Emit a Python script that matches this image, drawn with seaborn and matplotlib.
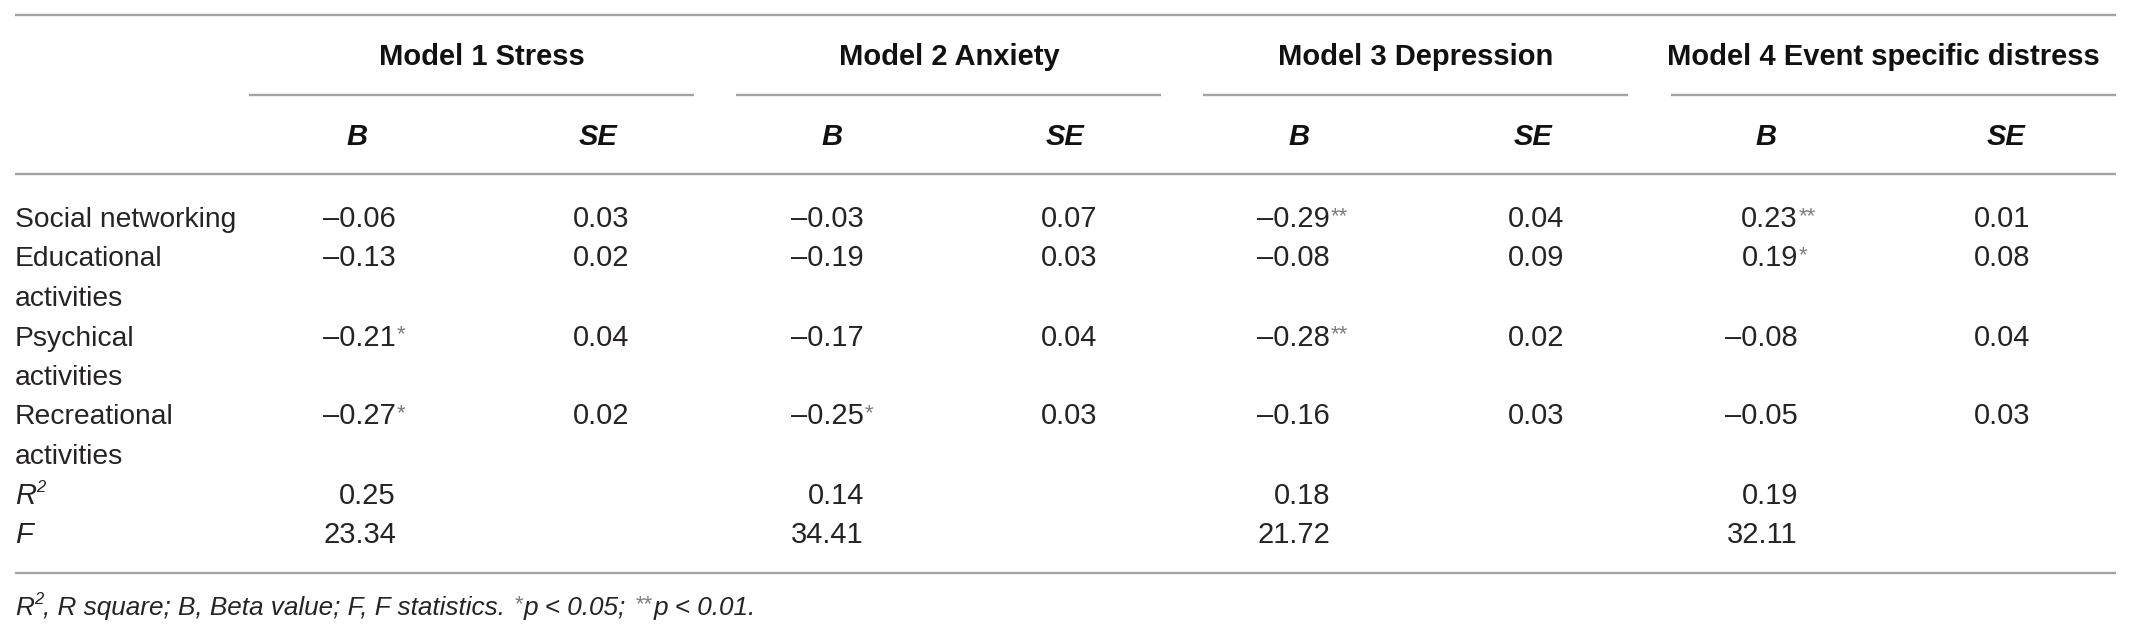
import matplotlib
matplotlib.use("Agg")
import matplotlib.pyplot as plt
import seaborn as sns

# table content
model_names = ["Model 1 Stress", "Model 2 Anxiety", "Model 3 Depression",
               "Model 4 Event specific distress"]
predictors = ["Social networking", "Educational\nactivities",
              "Psychical\nactivities", "Recreational\nactivities"]
# one list per model, one value per predictor
b_values = [[-0.06, -0.13, -0.21, -0.27],
            [-0.03, -0.19, -0.17, -0.25],
            [-0.29, -0.08, -0.28, -0.16],
            [0.23, 0.19, -0.08, -0.05]]
b_stars = [["", "", "*", "*"],
           ["", "", "", "*"],
           ["**", "", "**", ""],
           ["**", "*", "", ""]]
se_values = [[0.03, 0.02, 0.04, 0.02],
             [0.07, 0.03, 0.04, 0.03],
             [0.04, 0.09, 0.02, 0.03],
             [0.01, 0.08, 0.04, 0.03]]
r_squared = [0.25, 0.14, 0.18, 0.19]
f_values = [23.34, 34.41, 21.72, 32.11]

W, H = 2136, 633
sns.set_theme(style="white")
plt.rcParams["font.family"] = ["Liberation Sans", "DejaVu Sans"]

fig = plt.figure(figsize=(W / 100, H / 100), dpi=100)
ax = fig.add_axes([0, 0, 1, 1])
ax.set_xlim(0, W)
ax.set_ylim(H, 0)
ax.axis("off")
renderer = fig.canvas.get_renderer()

fs, fs_label, fs_note, fs_star = 21, 20.3, 18.8, 16
ink = "#262324"
star_col = "#7d7d7d"
rule = "#a3a3a3"
left, right = 15, 2116

group_spans = [(249, 694), (736, 1161), (1203, 1628), (1671, 2116)]
group_x = [482, 949, 1416, 1883]
b_head_x = [357, 832, 1299, 1766]
se_head_x = [598, 1065, 1533, 2006]
b_right = [396, 864, 1330, 1798]
se_right = [629, 1097, 1564, 2030]


def base(slot):
    return 227 + 39.5 * slot


def fmt(v):
    return f"{v:.2f}".replace("-", "\u2013")


def run(x, y, pieces):
    # draw text pieces one after another on a shared baseline
    for s, size, dy, color, gap in pieces:
        x += gap
        t = ax.text(x, y + dy, s, fontsize=size, color=color, fontstyle="italic",
                    ha="left", va="baseline")
        x += t.get_window_extent(renderer=renderer).width


# rules
ax.hlines([15, 174, 573], left, right, color=rule, lw=1.7)
for a, b in group_spans:
    ax.hlines(95, a, b, color=rule, lw=1.7)

# headers
for j, name in enumerate(model_names):
    ax.text(group_x[j], 65, name, ha="center", va="baseline", fontsize=fs,
            fontweight="bold", color="#111111")
    ax.text(b_head_x[j], 145, "B", ha="center", va="baseline", fontsize=fs,
            fontweight="bold", fontstyle="italic", color="#111111")
    ax.text(se_head_x[j], 145, "SE", ha="center", va="baseline", fontsize=fs,
            fontweight="bold", fontstyle="italic", color="#111111")

# body rows
slot = 0
for i, label in enumerate(predictors):
    lines = label.split("\n")
    for k, line in enumerate(lines):
        ax.text(left, base(slot + k), line, ha="left", va="baseline",
                fontsize=fs_label, color=ink)
    y = base(slot)
    for j in range(len(model_names)):
        ax.text(b_right[j], y, fmt(b_values[j][i]), ha="right", va="baseline",
                fontsize=fs, color=ink)
        if b_stars[j][i]:
            ax.text(b_right[j] + 1, y - 5, b_stars[j][i], ha="left",
                    va="baseline", fontsize=fs_star, color=star_col)
        ax.text(se_right[j], y, fmt(se_values[j][i]), ha="right",
                va="baseline", fontsize=fs, color=ink)
    slot += len(lines)

# model fit rows
run(left, base(slot), [("R", fs, 0, ink, 0), ("2", 12, -11, ink, 0)])
ax.text(left, base(slot + 1), "F", ha="left", va="baseline", fontsize=fs,
        fontstyle="italic", color=ink)
for j in range(len(model_names)):
    ax.text(b_right[j], base(slot), fmt(r_squared[j]), ha="right",
            va="baseline", fontsize=fs, color=ink)
    ax.text(b_right[j], base(slot + 1), fmt(f_values[j]), ha="right",
            va="baseline", fontsize=fs, color=ink)

# footnote
run(left, 615, [
    ("R", fs_note, 0, ink, 0),
    ("2", 12, -11, ink, 0),
    (", R square; B, Beta value; F, F statistics.", fs_note, 0, ink, 0),
    ("*", fs_star, -5, star_col, 9),
    ("p < 0.05;", fs_note, 0, ink, 1),
    ("**", fs_star, -5, star_col, 9),
    ("p < 0.01.", fs_note, 0, ink, 1),
])

fig.savefig("out.png", dpi=100, facecolor="white")
